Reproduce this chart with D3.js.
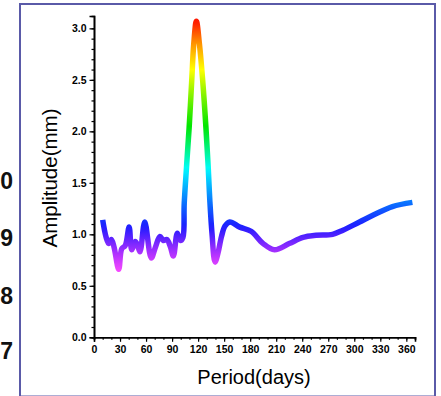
<!DOCTYPE html>
<html>

<head>
    <meta charset='utf-8'>
    <title>Amplitude vs Period</title>
    <script src='https://d3js.org/d3.v7.min.js'></script>
    <style>
        body { margin: 0; background: white; }
        svg { display: block; }
    </style>
</head>

<body>
    <script>
        // values
        const periodDays = [10, 14, 17, 20, 23, 28.5, 32, 36, 40.5, 43.5, 47.5, 50, 53, 58.5, 66, 71, 76, 80, 84, 88, 91.5, 96, 99.5, 102.5,
            104, 106.7, 109.7, 112.5, 115, 118, 121.5, 125.5, 129, 131.6, 133.5, 136, 139.5, 143, 147, 151, 156.5,
            168, 181, 195, 208, 225, 241, 256, 275, 287, 306, 325, 344, 367];
        const amplitude = [1.14, 0.97, 0.91, 0.95, 0.88, 0.66, 0.86, 0.89, 1.07, 0.85, 0.93, 0.9, 0.83, 1.12, 0.77, 0.88, 0.98, 0.94, 0.95, 0.88, 0.79, 1.01, 0.94, 0.97,
            1.3, 1.66, 2.04, 2.47, 2.85, 3.07, 2.85, 2.47, 2.04, 1.66, 1.33, 1.01, 0.73, 0.82, 0.98, 1.08, 1.12,
            1.07, 1.03, 0.91, 0.85, 0.91, 0.97, 0.99, 1.0, 1.04, 1.12, 1.2, 1.27, 1.31];

        const xMajor = d3.range(0, 361, 30);
        const xMinor = d3.range(0, 371, 10);
        const yMajor = [0, 0.5, 1.0, 1.5, 2.0, 2.5, 3.0];
        const yMinor = d3.range(0, 31).map(d => d / 10);

        // colour ramp: amplitude -> hue / lightness
        const colorStops = [0.65, 0.8, 0.95, 1.1, 1.3, 1.6, 2.05, 2.6, 2.85, 3.07];
        const colorHues = [296, 278, 258, 237, 215, 185, 120, 60, 35, 5];
        const colorLight = [0.64, 0.6, 0.57, 0.55, 0.52, 0.5, 0.45, 0.5, 0.5, 0.5];

        // clipped tick labels of the neighbouring panel
        const sideLabels = ['0', '9', '8', '7'];
        const sideLabelY = [181, 238, 296, 351];

        const data = periodDays.map((d, i) => ({ period: d, amp: amplitude[i] }));

        const width = 441, height = 396;

        const svg = d3.select('body')
            .append('svg')
            .attr('width', width)
            .attr('height', height);

        // panel frame
        svg.append('rect')
            .attr('x', 20)
            .attr('y', 4)
            .attr('width', 415)
            .attr('height', 392.5)
            .attr('fill', 'none')
            .attr('stroke', '#5a5aa8')
            .attr('stroke-width', 2);

        svg.selectAll('.side')
            .data(sideLabels)
            .enter()
            .append('text')
            .attr('class', 'side')
            .attr('x', 13)
            .attr('y', (d, i) => sideLabelY[i])
            .attr('text-anchor', 'end')
            .attr('dominant-baseline', 'central')
            .attr('font-family', 'Liberation Sans, Arial, sans-serif')
            .attr('font-weight', 'bold')
            .attr('font-size', 23)
            .attr('fill', '#111')
            .text(d => d);

        const x = d3.scaleLinear()
            .domain([0, 370])
            .range([94, 415]);

        const y = d3.scaleLinear()
            .domain([0, 3.12])
            .range([337.3, 16]);

        const hue = d3.scaleLinear()
            .domain(colorStops)
            .range(colorHues)
            .clamp(true);
        const light = d3.scaleLinear()
            .domain(colorStops)
            .range(colorLight)
            .clamp(true);

        // vertical gradient so colour follows amplitude
        const grad = svg.append('defs')
            .append('linearGradient')
            .attr('id', 'ampGrad')
            .attr('gradientUnits', 'userSpaceOnUse')
            .attr('x1', 0).attr('x2', 0)
            .attr('y1', y(0.6)).attr('y2', y(3.1));

        const gradVals = d3.range(0.6, 3.11, 0.05);
        grad.selectAll('stop')
            .data(gradVals)
            .enter()
            .append('stop')
            .attr('offset', d => (d - 0.6) / 2.5)
            .attr('stop-color', d => d3.hsl(hue(d), 1, light(d)).formatHex());

        // axes
        const xAxisMinor = d3.axisBottom(x).tickValues(xMinor).tickSize(2.5).tickFormat('');
        const xAxis = d3.axisBottom(x).tickValues(xMajor).tickSize(4.5).tickPadding(4);
        const yAxisMinor = d3.axisLeft(y).tickValues(yMinor).tickSize(2.5).tickFormat('');
        const yAxis = d3.axisLeft(y).tickValues(yMajor).tickSize(4.5).tickPadding(3).tickFormat(d3.format('.1f'));

        function styleAxis(g) {
            g.selectAll('path').attr('stroke', '#000').attr('stroke-width', 1.6);
            g.selectAll('line').attr('stroke', '#000').attr('stroke-width', 1.2);
            g.selectAll('text')
                .attr('fill', '#000')
                .attr('font-family', 'Liberation Sans, Arial, sans-serif')
                .attr('font-weight', 'bold')
                .attr('font-size', 10.5);
        }

        svg.append('g')
            .attr('transform', 'translate(0,' + y(0) + ')')
            .call(xAxisMinor)
            .call(styleAxis);
        svg.append('g')
            .attr('transform', 'translate(0,' + y(0) + ')')
            .call(xAxis)
            .call(styleAxis);
        svg.append('g')
            .attr('transform', 'translate(' + x(0) + ',0)')
            .call(yAxisMinor)
            .call(styleAxis);
        svg.append('g')
            .attr('transform', 'translate(' + x(0) + ',0)')
            .call(yAxis)
            .call(styleAxis);

        // the curve
        const line = d3.line()
            .x(d => x(d.period))
            .y(d => y(d.amp))
            .curve(d3.curveCatmullRom.alpha(0.5));

        svg.append('path')
            .datum(data)
            .attr('fill', 'none')
            .attr('stroke', 'url(#ampGrad)')
            .attr('stroke-width', 5.5)
            .attr('stroke-linejoin', 'round')
            .attr('d', line);

        // axis titles
        svg.append('text')
            .attr('x', 254)
            .attr('y', 384)
            .attr('text-anchor', 'middle')
            .attr('font-family', 'Liberation Sans, Arial, sans-serif')
            .attr('font-size', 20)
            .attr('fill', '#000')
            .text('Period(days)');

        svg.append('text')
            .attr('transform', 'translate(57,178) rotate(-90)')
            .attr('text-anchor', 'middle')
            .attr('font-family', 'Liberation Sans, Arial, sans-serif')
            .attr('font-size', 20.5)
            .attr('fill', '#000')
            .text('Amplitude(mm)');
    </script>
</body>

</html>
